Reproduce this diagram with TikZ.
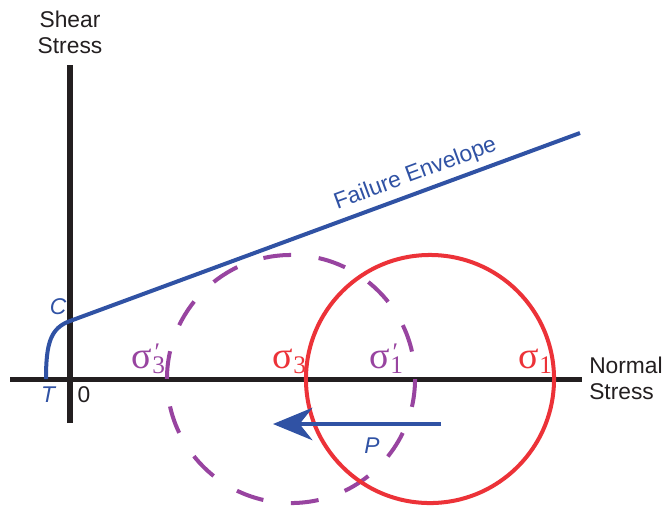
\documentclass[tikz,border=0pt]{standalone}
\usepackage{fontspec}
\setmainfont{Liberation Sans}
\newfontfamily\greekfont{Liberation Serif}
\usetikzlibrary{arrows.meta}
\definecolor{mohrblue}{RGB}{48, 82, 164}
\definecolor{mohrred}{RGB}{236, 50, 56}
\definecolor{mohrpurple}{RGB}{152, 68, 160}
\definecolor{mohrblack}{RGB}{35, 31, 32}
% sigma with subscript
\newcommand{\stresslabel}[1]{%
    {\greekfont\fontsize{27}{27}\selectfont σ\kern0.5pt\raisebox{-4pt}{\fontsize{18}{18}\selectfont #1}}%
}
% sigma with prime and subscript
\newcommand{\stresslabelprime}[1]{%
    {\greekfont\fontsize{27}{27}\selectfont σ\kern0.5pt\rlap{\kern1.5pt\raisebox{5pt}{\fontsize{18}{18}\selectfont ′}}\raisebox{-4pt}{\fontsize{18}{18}\selectfont #1}}%
}

\begin{document}
\begin{tikzpicture}[
    x=0.025cm, y=-0.025cm,
    every node/.style={font=\fontsize{16.2}{18.5}\selectfont, inner sep=0pt},
    axis line/.style={mohrblack, line width=3.56pt},
    axis label/.style={text=mohrblack},
    point label/.style={text=mohrblue, font=\fontsize{16.2}{18.5}\selectfont\itshape},
    mohr circle/.style={line width=2.85pt}
]
\useasboundingbox (0,0) rectangle (662,508);

% =============================================
% Axes
% =============================================
\coordinate (xstart) at (10,379);
\coordinate (xend) at (582,379);
\coordinate (ystart) at (70,423);
\coordinate (yend) at (70,65);
\draw[axis line] (xstart) -- (xend);
\draw[axis line] (ystart) -- (yend);

\node[axis label, align=center] (shear) at (70,32) {Shear\\Stress};
\node[axis label, align=left, anchor=west] (normal) at (589,378) {Normal\\Stress};
\node[axis label] (origin) at (84,395) {0};

% =============================================
% Mohr circles
% =============================================
% Dashed circle (shifted by pore pressure)
\draw[mohr circle, mohrpurple, dash pattern=on 0.7cm off 0.6913cm, dash phase=0.7cm]
    (291,379) circle[radius=3.1cm];
% Solid circle
\draw[mohr circle, mohrred] (430,379) circle[radius=3.1cm];

% Principal stress labels
\node[anchor=base west, text=mohrpurple] (s3p) at (131,368) {\stresslabelprime{3}};
\node[anchor=base west, text=mohrred] (s3) at (272,368) {\stresslabel{3}};
\node[anchor=base west, text=mohrpurple] (s1p) at (369,368) {\stresslabelprime{1}};
\node[anchor=base west, text=mohrred] (s1) at (518,368) {\stresslabel{1}};

% =============================================
% Failure envelope
% =============================================
\coordinate (tension) at (46,379);
\coordinate (cohesion) at (70,321);
\coordinate (envend) at (580,133);
\draw[mohrblue, line width=2.85pt]
    (tension) .. controls (46,342) and (51,328) .. (cohesion)
    -- (envend) node[pos=0.69, sloped, above=4pt, text=mohrblue] (envlabel) {Failure Envelope};

\node[point label] (clabel) at (58,307) {C};
\node[point label] (tlabel) at (48,395) {T};

% =============================================
% Pore pressure arrow
% =============================================
\coordinate (pstart) at (441,424);
\coordinate (pend) at (273,424);
\draw[mohrblue, line width=2.85pt, -{Stealth[length=28pt, width=23pt]}] (pstart) -- (pend);
\node[point label] (plabel) at (372,446) {P};

\end{tikzpicture}
\end{document}
